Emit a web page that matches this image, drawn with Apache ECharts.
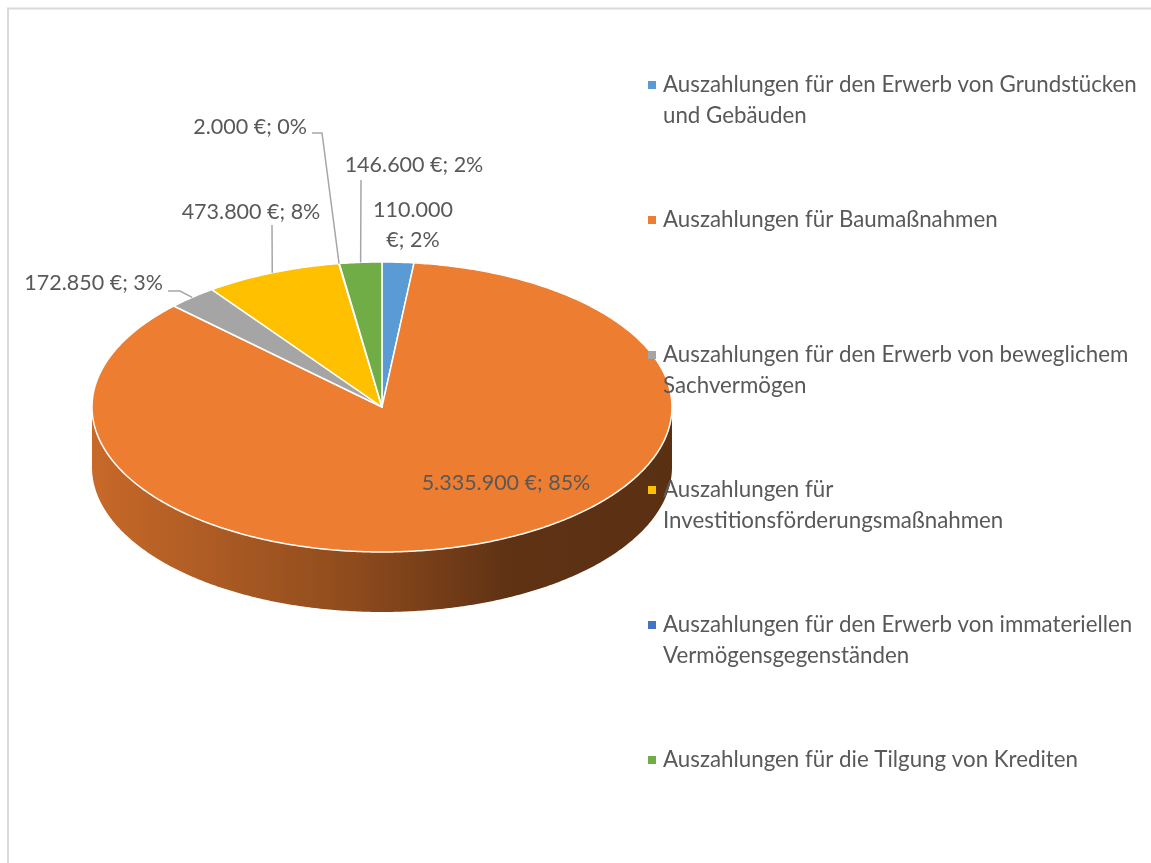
<!DOCTYPE html>
<html>
<head>
<meta charset="utf-8">
<title>Auszahlungen</title>
<script src="https://cdn.jsdelivr.net/npm/echarts@6/dist/echarts.min.js"></script>
<style>
  html, body { margin: 0; padding: 0; background: #fff; }
  #chart { width: 1151px; height: 863px; }
</style>
</head>
<body>
<div id="chart"></div>
<script>
const categories = [
  'Auszahlungen für den Erwerb von Grundstücken\nund Gebäuden',
  'Auszahlungen für Baumaßnahmen',
  'Auszahlungen für den Erwerb von beweglichem\nSachvermögen',
  'Auszahlungen für\nInvestitionsförderungsmaßnahmen',
  'Auszahlungen für den Erwerb von immateriellen\nVermögensgegenständen',
  'Auszahlungen für die Tilgung von Krediten'
];
const values = [110000, 5335900, 172850, 473800, 2000, 146600];
const colors = ['#5B9BD5', '#ED7D31', '#A5A5A5', '#FFC000', '#4472C4', '#70AD47'];

// tilted disc
const cx = 382, cy = 407, rx = 290, ry = 145, depth = 60;
const FONT = 'Lato, "Open Sans", sans-serif';

// where the data labels sit (Excel placed them by hand-ish)
const labelLayout = [
  { x: 413, y: 225, align: 'center', wrap: true },
  { x: 506, y: 483, align: 'center' },
  { x: 163, y: 283, align: 'right', from: [[168, 291], [180, 291]] },
  { x: 251, y: 212, align: 'center', from: [[272, 225]] },
  { x: 307, y: 127, align: 'right', from: [[312, 133], [322, 133]] },
  { x: 414, y: 165, align: 'center', from: [[361, 180]] }
];

const total = values.reduce((a, b) => a + b, 0);
let acc = 0;
const angles = values.map(v => {
  const a0 = acc / total * Math.PI * 2;
  acc += v;
  return [a0, acc / total * Math.PI * 2];
});

function pt(t, dy) {
  return [cx + rx * Math.sin(t), cy - ry * Math.cos(t) + (dy || 0)];
}
function arc(a, b, dy) {
  const n = Math.max(2, Math.ceil((b - a) / 0.01));
  const out = [];
  for (let i = 0; i <= n; i++) out.push(pt(a + (b - a) * i / n, dy));
  return out;
}
function shade(hex, k) {
  const n = parseInt(hex.slice(1), 16);
  const c = [(n >> 16) & 255, (n >> 8) & 255, n & 255].map(x => Math.round(x * k));
  return 'rgb(' + c.join(',') + ')';
}
function fmt(v) {
  return String(v).replace(/\B(?=(\d{3})+(?!\d))/g, '.');
}

const items = values.map((v, i) => ({ value: v, name: categories[i] }));

let chart = echarts.init(document.getElementById('chart'));
let option = {
  animation: false,
  graphic: [{
    // chart frame, only top and left edges are in view
    type: 'polyline',
    shape: { points: [[8, 900], [8, 8.5], [1151, 8.5]] },
    style: { fill: null, stroke: '#D9D9D9', lineWidth: 2 },
    silent: true
  }],
  series: [
    {
      // front wall of the disc
      type: 'custom',
      coordinateSystem: 'none',
      z: 1,
      data: items,
      renderItem: function (params) {
        const i = params.dataIndex;
        const a = Math.max(angles[i][0], Math.PI / 2);
        const b = Math.min(angles[i][1], Math.PI * 1.5);
        if (a >= b) return { type: 'group', children: [] };
        const pts = arc(a, b, 0).concat(arc(a, b, depth).reverse());
        return {
          type: 'polygon',
          shape: { points: pts },
          style: {
            fill: new echarts.graphic.LinearGradient(cx - rx, 0, cx + rx, 0, [
              { offset: 0, color: shade(colors[i], 0.84) },
              { offset: 0.45, color: shade(colors[i], 0.6) },
              { offset: 0.72, color: shade(colors[i], 0.4) },
              { offset: 1, color: shade(colors[i], 0.38) }
            ], true)
          }
        };
      }
    },
    {
      // top face
      type: 'custom',
      coordinateSystem: 'none',
      z: 2,
      data: items,
      renderItem: function (params) {
        const i = params.dataIndex;
        const pts = [[cx, cy]].concat(arc(angles[i][0], angles[i][1], 0));
        return {
          type: 'polygon',
          shape: { points: pts },
          style: { fill: colors[i], stroke: '#fff', lineWidth: 1.5, lineJoin: 'round' }
        };
      }
    },
    {
      // data labels
      type: 'custom',
      coordinateSystem: 'none',
      z: 3,
      data: items,
      renderItem: function (params) {
        const i = params.dataIndex;
        const L = labelLayout[i];
        const pct = Math.round(values[i] / total * 100);
        const txt = fmt(values[i]) + (L.wrap ? '\n' : ' ') + '€; ' + pct + '%';
        const kids = [{
          type: 'text',
          style: {
            text: txt, x: L.x, y: L.y, align: L.align, verticalAlign: 'middle',
            fill: '#595959', font: '21.5px ' + FONT, lineHeight: 30
          }
        }];
        if (L.from) {
          const mid = (angles[i][0] + angles[i][1]) / 2;
          kids.push({
            type: 'polyline',
            shape: { points: L.from.concat([pt(mid, 0)]) },
            style: { stroke: '#A6A6A6', lineWidth: 1.5, fill: null }
          });
        }
        return { type: 'group', children: kids };
      }
    },
    {
      // legend, one entry every 135px
      type: 'custom',
      coordinateSystem: 'none',
      z: 4,
      data: items,
      renderItem: function (params) {
        const i = params.dataIndex;
        const y = 85 + i * 135;
        return {
          type: 'group',
          children: [
            { type: 'rect', shape: { x: 648, y: y - 4, width: 8, height: 8 }, style: { fill: colors[i] } },
            {
              type: 'text',
              style: {
                text: categories[i], x: 663, y: y - 15.5, verticalAlign: 'top',
                fill: '#595959', font: '22.3px ' + FONT, lineHeight: 31
              }
            }
          ]
        };
      }
    }
  ]
};
chart.setOption(option);
</script>
</body>
</html>
